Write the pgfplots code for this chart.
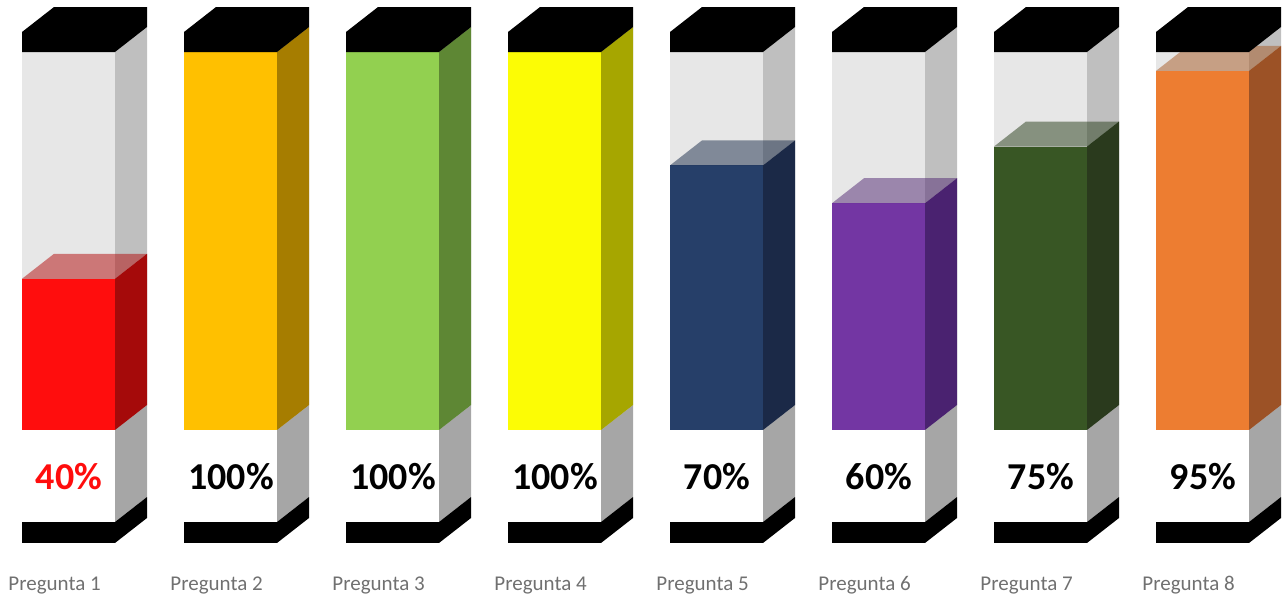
\documentclass[border=0pt]{standalone}
\usepackage{pgfplots}
\pgfplotsset{compat=1.18}
\usepackage{fontspec}
\setmainfont{Carlito}
\definecolor{c1}{HTML}{FF0D0D}\definecolor{s1}{HTML}{A50A0A}
\definecolor{c2}{HTML}{FFC000}\definecolor{s2}{HTML}{A67D00}
\definecolor{c3}{HTML}{92D050}\definecolor{s3}{HTML}{5E8734}
\definecolor{c4}{HTML}{FCFC05}\definecolor{s4}{HTML}{A6A600}
\definecolor{c5}{HTML}{263F69}\definecolor{s5}{HTML}{1B2947}
\definecolor{c6}{HTML}{7336A3}\definecolor{s6}{HTML}{4A2270}
\definecolor{c7}{HTML}{385624}\definecolor{s7}{HTML}{2A3A1D}
\definecolor{c8}{HTML}{ED7D31}\definecolor{s8}{HTML}{9C5226}
\definecolor{glassF}{HTML}{E7E7E7}
\definecolor{glassS}{HTML}{BFBFBF}
\definecolor{lowS}{HTML}{A6A6A6}
\definecolor{lab}{HTML}{707070}
\begin{document}
\begin{tikzpicture}
\begin{axis}[
  scale only axis, width=644pt, height=299.5pt,
  xmin=0, xmax=1288, ymin=-44.71, ymax=113.76,
  hide axis, clip=false]
\path (rel axis cs:0,0) rectangle (rel axis cs:1,1);
% glass tubes (background)
\pgfplotsinvokeforeach{0,...,7}{
  \fill[glassF] (axis cs:{22+162*#1},0) rectangle (axis cs:{115+162*#1},100);
  \fill[glassS] (axis cs:{115+162*#1},0) -- (axis cs:{147+162*#1},6.61) -- (axis cs:{147+162*#1},106.61) -- (axis cs:{115+162*#1},100) -- cycle;
  \fill[lowS] (axis cs:{115+162*#1},-24.34) -- (axis cs:{147+162*#1},-17.73) -- (axis cs:{147+162*#1},6.61) -- (axis cs:{115+162*#1},0) -- cycle;
}
% data bars: front, side, top
% 1: 40
\addplot[draw=none, fill=c1] coordinates {(22,0) (115,0) (115,40) (22,40)};
\addplot[draw=none, fill=s1] coordinates {(115,0) (147,6.61) (147,46.61) (115,40)};
\addplot[draw=none, fill=c1!70!black, fill opacity=0.5] coordinates {(22,40) (54,46.61) (147,46.61) (115,40)};
% 2: 100
\addplot[draw=none, fill=c2] coordinates {(184,0) (277,0) (277,100) (184,100)};
\addplot[draw=none, fill=s2] coordinates {(277,0) (309,6.61) (309,106.61) (277,100)};
\addplot[draw=none, fill=c2!70!black, fill opacity=0.5] coordinates {(184,100) (216,106.61) (309,106.61) (277,100)};
% 3: 100
\addplot[draw=none, fill=c3] coordinates {(346,0) (439,0) (439,100) (346,100)};
\addplot[draw=none, fill=s3] coordinates {(439,0) (471,6.61) (471,106.61) (439,100)};
\addplot[draw=none, fill=c3!70!black, fill opacity=0.5] coordinates {(346,100) (378,106.61) (471,106.61) (439,100)};
% 4: 100
\addplot[draw=none, fill=c4] coordinates {(508,0) (601,0) (601,100) (508,100)};
\addplot[draw=none, fill=s4] coordinates {(601,0) (633,6.61) (633,106.61) (601,100)};
\addplot[draw=none, fill=c4!70!black, fill opacity=0.5] coordinates {(508,100) (540,106.61) (633,106.61) (601,100)};
% 5: 70
\addplot[draw=none, fill=c5] coordinates {(670,0) (763,0) (763,70) (670,70)};
\addplot[draw=none, fill=s5] coordinates {(763,0) (795,6.61) (795,76.61) (763,70)};
\addplot[draw=none, fill=c5!70!black, fill opacity=0.5] coordinates {(670,70) (702,76.61) (795,76.61) (763,70)};
% 6: 60
\addplot[draw=none, fill=c6] coordinates {(832,0) (925,0) (925,60) (832,60)};
\addplot[draw=none, fill=s6] coordinates {(925,0) (957,6.61) (957,66.61) (925,60)};
\addplot[draw=none, fill=c6!70!black, fill opacity=0.5] coordinates {(832,60) (864,66.61) (957,66.61) (925,60)};
% 7: 75
\addplot[draw=none, fill=c7] coordinates {(994,0) (1087,0) (1087,75) (994,75)};
\addplot[draw=none, fill=s7] coordinates {(1087,0) (1119,6.61) (1119,81.61) (1087,75)};
\addplot[draw=none, fill=c7!70!black, fill opacity=0.5] coordinates {(994,75) (1026,81.61) (1119,81.61) (1087,75)};
% 8: 95
\addplot[draw=none, fill=c8] coordinates {(1156,0) (1249,0) (1249,95) (1156,95)};
\addplot[draw=none, fill=s8] coordinates {(1249,0) (1281,6.61) (1281,101.61) (1249,95)};
\addplot[draw=none, fill=c8!70!black, fill opacity=0.5] coordinates {(1156,95) (1188,101.61) (1281,101.61) (1249,95)};
% caps and bases
\pgfplotsinvokeforeach{0,...,7}{
  \fill[black] (axis cs:{22+162*#1},100) -- (axis cs:{22+162*#1},105.29) -- (axis cs:{54+162*#1},111.9) -- (axis cs:{147+162*#1},111.9) -- (axis cs:{147+162*#1},106.61) -- (axis cs:{115+162*#1},100) -- cycle;
  \fill[black] (axis cs:{22+162*#1},-29.89) -- (axis cs:{115+162*#1},-29.89) -- (axis cs:{147+162*#1},-23.28) -- (axis cs:{147+162*#1},-17.73) -- (axis cs:{115+162*#1},-24.34) -- (axis cs:{22+162*#1},-24.34) -- cycle;
}
% labels
\node[anchor=base, font=\bfseries\fontsize{19}{22}\selectfont, text=c1] at (axis cs:69,-15.87) {40\%};
\node[anchor=base, font=\bfseries\fontsize{19}{22}\selectfont] at (axis cs:231,-15.87) {100\%};
\node[anchor=base, font=\bfseries\fontsize{19}{22}\selectfont] at (axis cs:393,-15.87) {100\%};
\node[anchor=base, font=\bfseries\fontsize{19}{22}\selectfont] at (axis cs:555,-15.87) {100\%};
\node[anchor=base, font=\bfseries\fontsize{19}{22}\selectfont] at (axis cs:717,-15.87) {70\%};
\node[anchor=base, font=\bfseries\fontsize{19}{22}\selectfont] at (axis cs:879,-15.87) {60\%};
\node[anchor=base, font=\bfseries\fontsize{19}{22}\selectfont] at (axis cs:1041,-15.87) {75\%};
\node[anchor=base, font=\bfseries\fontsize{19}{22}\selectfont] at (axis cs:1203,-15.87) {95\%};
\pgfplotsinvokeforeach{1,...,8}{
  \node[anchor=base west, inner sep=0pt, font=\fontsize{10.5}{12.5}\selectfont, text=lab] at (axis cs:{8+162*(#1-1)},-42.33) {Pregunta #1};
}
\end{axis}
\end{tikzpicture}
\end{document}
